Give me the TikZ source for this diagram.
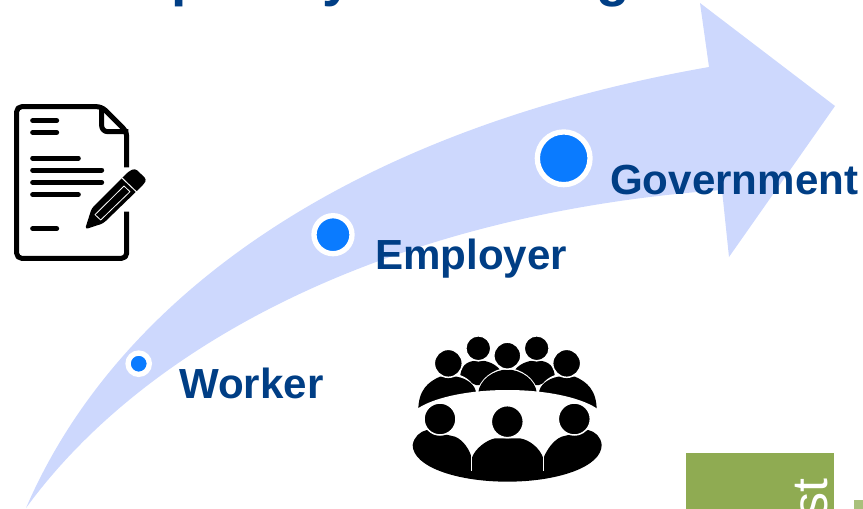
\documentclass[tikz,border=0pt]{standalone}
\usepackage{fontspec}
\setmainfont{Liberation Sans}
\definecolor{navy}{HTML}{003E85}
\definecolor{dotblue}{HTML}{0A7BFF}
\definecolor{arrowblue}{HTML}{CDD8FD}
\definecolor{olive}{HTML}{8FAB52}
\definecolor{olivelight}{HTML}{A9C07B}
\tikzset{
  label text/.style={inner sep=0pt,anchor=base west,text=navy,font=\fontsize{42.1}{42.1}\selectfont\bfseries},
  title part/.style={inner sep=0pt,anchor=base west,text=navy,font=\fontsize{55}{55}\selectfont\bfseries},
  dot/.style={circle,fill=dotblue,draw=white,inner sep=0pt,line width=5.3pt},
  docline/.style={line width=5pt,line cap=round,draw=black},
  ring/.style={circle,fill=black,draw=white,line width=1.5pt,inner sep=0pt},
}
\begin{document}
\begin{tikzpicture}[x=1pt,y=-1pt]
\useasboundingbox (0,0) rectangle (863,509);
\clip (0,0) rectangle (863,509);
% arrow
\fill[arrowblue] (26,508)
  .. controls (120,290) and (360,128) .. (709,67)
  -- (700,3) -- (835,106) -- (729,257) -- (722,190)
  .. controls (400,213) and (150,338) .. cycle;
% title fragments
\node[title part] (tp) at (171,-5) {p};
\node[title part] (ty) at (322,-5) {y};
\node[title part] (tg) at (596,-5) {g};
% dots
\node[dot,minimum size=21.3pt] (d1) at (138.7,363.7) {};
\node[dot,minimum size=38pt] (d2) at (333,234.7) {};
\node[dot,minimum size=52.7pt] (d3) at (563.7,158.3) {};
% labels
\node[label text] (worker) at (179,398) {Worker};
\node[label text] (employer) at (375,269) {Employer};
\node[label text] (government) at (610,194) {Government};
% document icon
\begin{scope}[shift={(0,90)},scale=1/3]
  \draw[black,line width=5pt,line join=round,rounded corners=5pt]
    (380,232) -- (380,125) -- (305,50) -- (50,50) -- (50,505) -- (380,505) -- (380,365);
  \draw[black,line width=5pt,line join=round,rounded corners=6pt] (305,50) -- (305,125) -- (385,125);
  \foreach \yy/\xx in {92/170,127/170,204/235,240/305,277/305,314/235,416/170}
    \draw[docline] (98,\yy) -- (\xx,\yy);
  % pencil
  \fill[black,rounded corners=3pt] (255,418) -- (275,355) -- (365,265) -- (385,245) -- (405,235) -- (440,268) -- (432,282) -- (310,400) -- cycle;
  \draw[white,line width=1pt] (364,262) -- (412,308);
  \draw[white,line width=.8pt,line join=round] (285,374) -- (372,288) -- (390,305) -- (302,390) -- cycle;
\end{scope}
% people icon
\begin{scope}[shift={(400,325)},scale=1/3]
  % back row bodies
  \fill[black] (180,160) .. controls (182,125) and (195,108) .. (235,106)
    .. controls (265,106) and (290,120) .. (300,135)
    -- (345,135) .. controls (355,120) and (380,106) .. (410,106)
    .. controls (450,108) and (463,125) .. (465,160) -- (417,180) -- (228,180) -- cycle;
  \fill[white] (322,128) .. controls (280,132) and (238,160) .. (230,205)
    -- (415,205) .. controls (407,160) and (365,132) .. (322,128) -- cycle;
  \fill[white] (170,148) .. controls (200,152) and (228,180) .. (233,210) -- (160,210) -- cycle;
  \fill[white] (475,148) .. controls (445,152) and (417,180) .. (412,210) -- (485,210) -- cycle;
  \fill[black] (55,255) .. controls (55,195) and (85,170) .. (120,155) -- (170,155)
    .. controls (200,160) and (228,180) .. (228,205) -- cycle;
  \fill[black] (590,255) .. controls (590,195) and (560,170) .. (525,155) -- (475,155)
    .. controls (445,160) and (417,180) .. (417,205) -- cycle;
  \fill[black] (234,205) .. controls (240,162) and (280,136) .. (322,133)
    .. controls (365,136) and (405,162) .. (411,205) -- cycle;
  \node[ring,minimum size=25pt] (h1) at (235,70) {};
  \node[ring,minimum size=25pt] (h2) at (410,70) {};
  \node[ring,minimum size=27pt] (h3) at (322,92) {};
  \node[ring,minimum size=28pt] (h4) at (145,115) {};
  \node[ring,minimum size=28pt] (h5) at (500,115) {};
  % table
  \fill[white] (322,295) ellipse (300 and 100);
  % front bodies
  \fill[black] (38,360) .. controls (42,335) and (60,320) .. (80,315)
    -- (165,335) .. controls (190,345) and (210,375) .. (215,400)
    .. controls (225,370) and (260,345) .. (285,340) -- (360,340)
    .. controls (390,345) and (420,370) .. (430,400)
    .. controls (440,375) and (460,345) .. (485,335) -- (565,315)
    .. controls (585,320) and (603,335) .. (605,360)
    .. controls (605,425) and (475,470) .. (322,470)
    .. controls (170,470) and (38,425) .. (38,360) -- cycle;
  \draw[white,line width=1.5pt] (215,385) -- (215,438);
  \draw[white,line width=1.5pt] (430,385) -- (430,438);
  \node[ring,minimum size=32pt] (h6) at (120,282) {};
  \node[ring,minimum size=32pt] (h7) at (322,290) {};
  \node[ring,minimum size=32pt] (h8) at (523,282) {};
\end{scope}
% green block
\fill[olive] (686,453) rectangle (834,509);
\fill[olivelight] (854,500) rectangle (863,509);
\node[inner sep=0pt,rotate=90,anchor=base east,text=white,font=\fontsize{50}{50}\selectfont] (st) at (827.5,478) {st};
\end{tikzpicture}
\end{document}
